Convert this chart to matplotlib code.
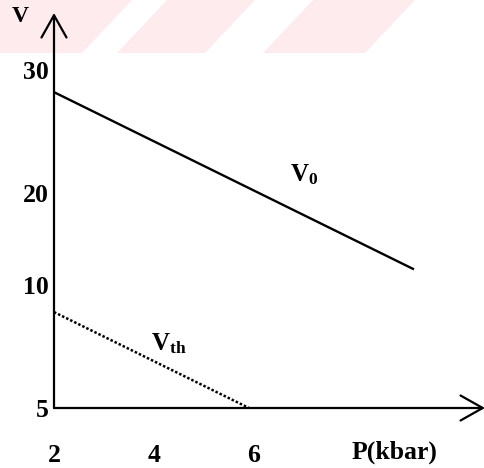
import matplotlib
matplotlib.use("Agg")
import matplotlib.pyplot as plt
import numpy as np
from matplotlib.patches import Polygon

plt.rcParams['font.family'] = ['Liberation Serif', 'DejaVu Serif']
plt.rcParams['mathtext.fontset'] = 'custom'
plt.rcParams['mathtext.rm'] = 'Liberation Serif'
plt.rcParams['mathtext.bf'] = 'Liberation Serif:bold'

# data
pressure_ticks = [2, 4, 6]
voltage_ticks = [5, 10, 20, 30]

v0_p = [2.0, 9.2]
v0_v = [28.2, 11.7]

vth_p = [2.0, 5.9]
vth_v = [8.9, 5.0]

# the printed V axis is not uniform: tick value -> height above the P axis (px)
scale_vals = [0, 5, 10, 20, 30, 40]
scale_px = [-123, 0, 123, 215, 338, 461]


def fwd(v):
    return np.interp(v, scale_vals, scale_px)


def inv(p):
    return np.interp(p, scale_px, scale_vals)


fig = plt.figure(figsize=(4.85, 4.68), dpi=100)

# faint red watermark stripes over the top of the scan
for x0, x1 in [(-60, 82), (117, 205), (263, 365)]:
    pts = np.array([[x0, 53], [x1, 53], [x1 + 50, 0], [x0 + 50, 0]], float)
    pts[:, 0] /= 485
    pts[:, 1] = 1 - pts[:, 1] / 468
    fig.patches.append(Polygon(pts, closed=True, transform=fig.transFigure,
                               facecolor='#fdebee', edgecolor='none', zorder=-5))

ax = fig.add_axes([54 / 485, 60 / 468, 431 / 485, 395 / 468])
ax.patch.set_alpha(0)
ax.set_yscale('function', functions=(fwd, inv))
ax.set_xlim(2, 2 + 431 / 50)
ax.set_ylim(5, inv(395))

for s in ax.spines.values():
    s.set_visible(False)

# axes drawn as arrows
arrow = dict(arrowstyle='->,head_length=0.8,head_width=0.45',
             mutation_scale=20, lw=1.6, color='black', shrinkA=0, shrinkB=0)
ax.annotate('', xy=(0, 1), xytext=(0, 0), xycoords='axes fraction',
            arrowprops=arrow, annotation_clip=False)
ax.annotate('', xy=(1, 0), xytext=(0, 0), xycoords='axes fraction',
            arrowprops=arrow, annotation_clip=False)

ax.plot(v0_p, v0_v, color='black', lw=1.7, solid_capstyle='butt')
ax.plot(vth_p, vth_v, color='black', lw=1.8, linestyle=(0, (1, 0.8)))

ax.set_xticks(pressure_ticks)
ax.set_xticklabels([str(t) for t in pressure_ticks])
ax.set_yticks(voltage_ticks)
ax.set_yticklabels([str(t) for t in voltage_ticks])
ax.yaxis.set_minor_locator(matplotlib.ticker.NullLocator())
ax.tick_params(axis='both', length=0, labelsize=18.5)
ax.tick_params(axis='x', pad=26)
ax.tick_params(axis='y', pad=4)
for lab in ax.get_xticklabels() + ax.get_yticklabels():
    lab.set_fontweight('bold')

ax.text(8.82, -0.112, 'P(kbar)', transform=ax.get_xaxis_transform(),
        ha='center', va='center', fontsize=18.5, fontweight='bold')
ax.text(7.0, 21.5, r'$\mathbf{V_0}$', ha='center', va='center', fontsize=18)
ax.text(4.3, 7.6, r'$\mathbf{V_{th}}$', ha='center', va='center', fontsize=18)
fig.text(20 / 485, 1 - 16 / 468, 'V', ha='center', va='center',
         fontsize=17, fontweight='bold')

fig.savefig('out.png', dpi=100)
